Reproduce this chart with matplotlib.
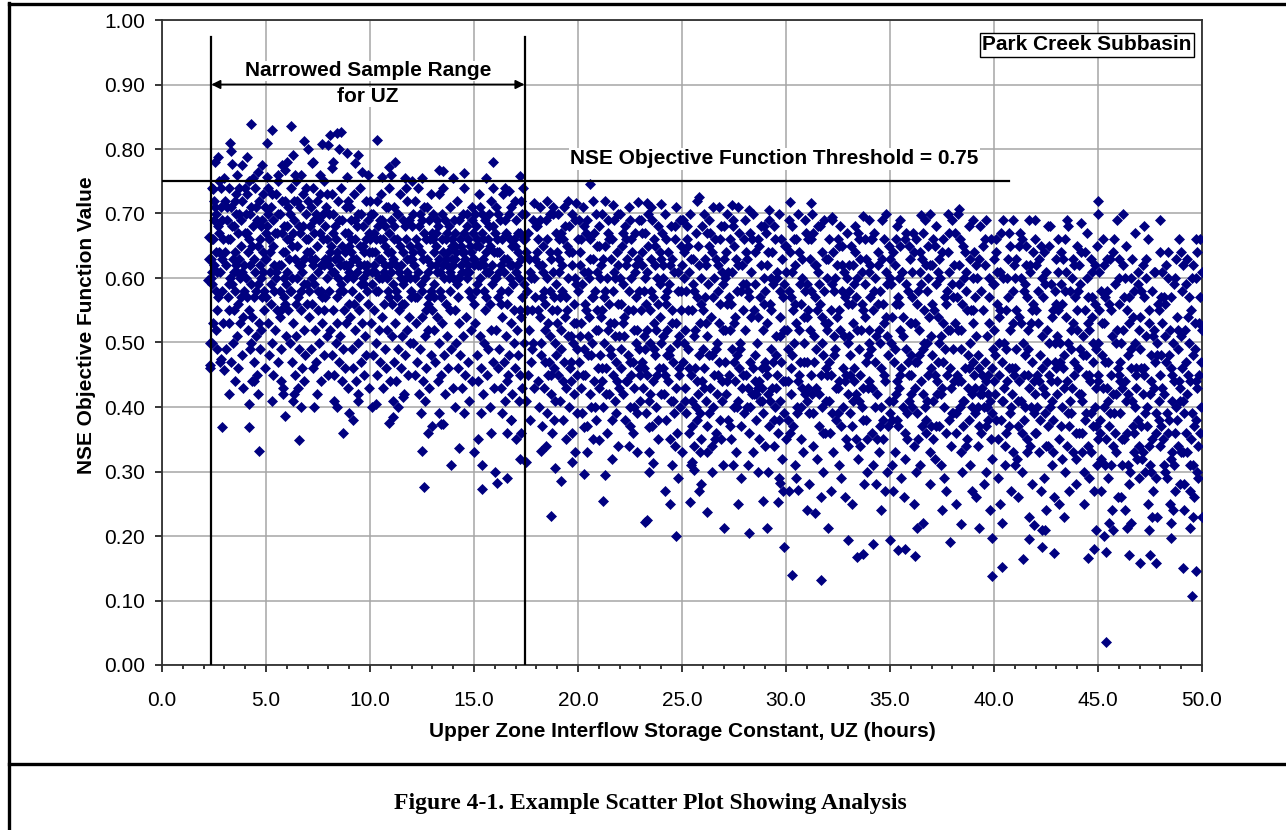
import matplotlib
matplotlib.use("Agg")
import matplotlib.pyplot as plt
from matplotlib.lines import Line2D
from matplotlib.ticker import MultipleLocator, FormatStrFormatter

plt.rcParams['font.family'] = ['Liberation Sans', 'DejaVu Sans']

# ---- data (UZ hours, NSE value) ----

# narrowed range, points above the 0.75 threshold
zone_a_high = [(2.44,.738),(2.7,.787),(3.25,.81),(3.34,.797),(3.35,.776),(3.6,.76),(3.86,.775),(4.1,.788),(4.3,.839),(4.36,.755),
    (4.8,.775),(5.07,.81),(5.06,.757),(5.3,.83),(5.56,.76),(5.75,.775),(6.0,.78),(6.2,.836),(6.4,.76),(6.7,.76),(6.85,.812),(7.0,.80),
    (7.2,.778),(7.25,.78),(7.6,.76),(7.7,.808),(7.96,.806),(8.1,.822),(8.2,.78),(8.17,.77),(8.4,.825),(8.6,.827),(8.9,.794),(8.9,.757),
    (9.26,.778),(9.4,.79),(9.9,.76),(10.35,.814),(10.6,.757),(10.9,.772),(11.2,.78),(11.66,.755),(12.5,.755),(13.3,.767),(13.5,.766),
    (14.5,.763),(15.6,.755),(15.9,.78),(16.7,.735),(17.2,.758),(12.0,.75),(14.0,.755),(11.0,.76),(9.6,.765),(8.5,.80),(6.3,.79),
    (5.9,.768),(4.6,.765),(3.0,.755)]

# narrowed range, sparse low points
zone_a_low = [(2.24,.63),(2.19,.597),(2.28,.664),(2.38,.61),(2.33,.50),(2.33,.465),(2.86,.474),(2.96,.457),(2.9,.369),(4.19,.369),
    (4.64,.332),(6.6,.349),(8.7,.36),(5.9,.386),(12.5,.332),(12.6,.276),(13.9,.31),(4.2,.405),(6.7,.40),(9.0,.39),(9.2,.38),(10.9,.375),
    (11.1,.385),(10.3,.405),(11.1,.41),(12.8,.36),(13.4,.373),(13.0,.37),(13.3,.39),(9.4,.42),(6.3,.41),(11.6,.415),(15.4,.273),
    (16.1,.282),(16.6,.29),(15.4,.31),(16.0,.30),(17.2,.32),(14.3,.336),(15.0,.33),(15.8,.36),(16.6,.36),(15.2,.35),(13.5,.373),
    (3.2,.42),(4.4,.44),(5.8,.42),(7.3,.40),(8.4,.40),(10.1,.40),(14.1,.40),(14.5,.39),(16.8,.38),(17.0,.35)]

# narrowed range, dense body
zone_a_core = [
    (2.35,.60),(2.4,.59),(2.36,.63),(2.42,.74),(2.38,.50),(2.33,.46),(2.45,.66),(2.5,.72),(2.55,.71),(2.6,.70),(2.7,.68),(2.75,.67),
    (2.4,.66),(2.5,.62),(2.6,.58),(2.65,.55),(2.8,.61),(2.9,.63),(2.55,.78),(2.85,.74),(2.9,.69),(2.7,.57),(2.95,.53),(2.8,.47),
    (2.45,.53),(2.6,.64),(2.75,.75),(2.9,.58),(2.65,.49),
    (3.05,.72),(3.12,.69),(3.2,.74),(3.28,.66),(3.33,.71),(3.41,.63),(3.47,.68),(3.55,.73),(3.62,.61),(3.7,.70),(3.78,.65),(3.85,.72),
    (3.93,.58),(3.08,.62),(3.15,.57),(3.24,.53),(3.36,.59),(3.44,.55),(3.52,.64),(3.6,.51),(3.67,.56),(3.75,.60),(3.83,.48),(3.9,.54),
    (3.97,.67),(3.1,.49),(3.3,.47),(3.5,.44),(3.65,.46),(3.88,.43),(3.18,.66),(3.58,.70),(3.72,.74),(3.45,.61),(3.95,.62),(3.22,.59),(3.8,.57),
    (4.03,.70),(4.1,.73),(4.18,.66),(4.25,.62),(4.3,.71),(4.38,.68),(4.46,.74),(4.52,.58),(4.6,.65),(4.67,.72),(4.75,.60),(4.82,.69),
    (4.9,.55),(4.97,.63),(4.07,.57),(4.14,.52),(4.22,.49),(4.34,.54),(4.42,.47),(4.5,.51),(4.57,.45),(4.64,.53),(4.72,.49),(4.8,.57),
    (4.87,.61),(4.94,.46),(4.12,.64),(4.28,.59),(4.44,.63),(4.55,.69),(4.7,.66),(4.85,.73),(4.33,.44),(4.62,.42),(4.95,.71),(4.2,.75),(4.78,.52),
    (5.04,.68),(5.11,.74),(5.17,.61),(5.25,.71),(5.32,.65),(5.4,.58),(5.46,.73),(5.53,.67),(5.61,.62),(5.68,.70),(5.74,.55),(5.82,.64),
    (5.9,.72),(5.96,.59),(5.08,.53),(5.15,.48),(5.22,.56),(5.29,.50),(5.36,.45),(5.44,.52),(5.5,.60),(5.57,.47),(5.65,.54),(5.72,.49),
    (5.8,.43),(5.87,.57),(5.94,.51),(5.02,.63),(5.13,.66),(5.35,.69),(5.59,.75),(5.77,.67),(5.92,.64),(5.27,.41),(5.48,.61),(5.7,.44),(5.85,.60),
    (6.05,.71),(6.12,.66),(6.19,.74),(6.27,.60),(6.33,.69),(6.41,.63),(6.48,.72),(6.55,.57),(6.63,.67),(6.7,.62),(6.78,.73),(6.85,.59),
    (6.92,.70),(6.98,.64),(6.08,.55),(6.16,.50),(6.23,.47),(6.3,.53),(6.38,.45),(6.45,.51),(6.52,.43),(6.6,.49),(6.67,.55),(6.74,.46),
    (6.81,.52),(6.89,.48),(6.95,.56),(6.02,.61),(6.25,.65),(6.44,.75),(6.58,.68),(6.72,.61),(6.9,.66),(6.14,.58),(6.36,.42),(6.83,.44),(6.5,.60),
    (7.03,.72),(7.1,.68),(7.17,.63),(7.24,.74),(7.31,.59),(7.38,.70),(7.45,.65),(7.52,.61),(7.6,.73),(7.67,.57),(7.74,.66),(7.81,.62),
    (7.88,.71),(7.95,.60),(7.07,.54),(7.14,.49),(7.21,.56),(7.28,.46),(7.35,.52),(7.42,.47),(7.49,.55),(7.56,.50),(7.63,.44),(7.7,.53),
    (7.77,.48),(7.84,.57),(7.91,.51),(7.98,.45),(7.12,.64),(7.33,.67),(7.55,.69),(7.78,.75),(7.93,.66),(7.26,.62),(7.47,.42),(7.65,.58),(7.86,.63),
    (8.04,.70),(8.11,.65),(8.18,.73),(8.25,.61),(8.32,.68),(8.39,.57),(8.46,.72),(8.53,.63),(8.6,.59),(8.67,.69),(8.74,.55),(8.81,.64),
    (8.88,.60),(8.95,.67),(8.08,.52),(8.15,.48),(8.22,.55),(8.29,.45),(8.36,.50),(8.43,.53),(8.5,.47),(8.57,.51),(8.64,.44),(8.71,.49),
    (8.78,.46),(8.85,.53),(8.92,.43),(8.99,.56),(8.02,.62),(8.2,.67),(8.41,.64),(8.62,.74),(8.83,.71),(8.97,.61),(8.27,.41),(8.55,.58),(8.76,.62),
    (9.03,.71),(9.1,.66),(9.17,.60),(9.24,.73),(9.31,.63),(9.38,.68),(9.45,.57),(9.52,.62),(9.59,.70),(9.66,.65),(9.73,.59),(9.8,.72),
    (9.87,.61),(9.94,.67),(9.06,.54),(9.13,.49),(9.2,.46),(9.27,.52),(9.34,.44),(9.41,.50),(9.48,.55),(9.55,.47),(9.62,.53),(9.69,.45),
    (9.76,.51),(9.83,.48),(9.9,.56),(9.97,.43),(9.08,.64),(9.29,.69),(9.5,.74),(9.71,.64),(9.92,.69),(9.15,.58),(9.43,.41),(9.64,.60),(9.85,.62),
    (10.04,.70),(10.11,.64),(10.18,.67),(10.25,.61),(10.32,.72),(10.39,.58),(10.46,.66),(10.53,.63),(10.6,.69),(10.67,.56),(10.74,.65),
    (10.81,.60),(10.88,.71),(10.95,.62),(10.07,.53),(10.14,.48),(10.21,.55),(10.28,.50),(10.35,.45),(10.42,.52),(10.49,.47),(10.56,.54),
    (10.63,.43),(10.7,.49),(10.77,.46),(10.84,.52),(10.91,.57),(10.98,.44),(10.09,.59),(10.3,.66),(10.51,.73),(10.72,.68),(10.93,.74),
    (10.2,.62),(10.44,.60),(10.65,.61),(10.86,.64),
    (11.03,.69),(11.1,.63),(11.17,.71),(11.24,.58),(11.31,.66),(11.38,.61),(11.45,.73),(11.52,.56),(11.59,.64),(11.66,.68),(11.73,.60),
    (11.8,.72),(11.87,.54),(11.94,.65),(11.06,.51),(11.13,.47),(11.2,.53),(11.27,.44),(11.34,.49),(11.41,.55),(11.48,.46),(11.55,.51),
    (11.62,.42),(11.69,.48),(11.76,.52),(11.83,.45),(11.9,.50),(11.97,.57),(11.08,.56),(11.29,.70),(11.5,.62),(11.71,.74),(11.92,.60),
    (11.15,.66),(11.36,.40),(11.57,.59),(11.78,.63),
    (12.04,.68),(12.11,.62),(12.18,.72),(12.25,.57),(12.32,.65),(12.39,.70),(12.46,.59),(12.53,.63),(12.6,.67),(12.67,.55),(12.74,.71),
    (12.81,.61),(12.88,.66),(12.95,.58),(12.07,.50),(12.14,.45),(12.21,.53),(12.28,.47),(12.35,.42),(12.42,.49),(12.49,.54),(12.56,.44),
    (12.63,.51),(12.7,.46),(12.77,.52),(12.84,.43),(12.91,.48),(12.98,.55),(12.09,.64),(12.3,.74),(12.51,.69),(12.72,.63),(12.93,.73),
    (12.16,.60),(12.44,.39),(12.65,.41),(12.86,.57),
    (13.03,.70),(13.1,.64),(13.17,.67),(13.24,.61),(13.31,.73),(13.38,.58),(13.45,.66),(13.52,.62),(13.59,.69),(13.66,.56),(13.73,.64),
    (13.8,.60),(13.87,.71),(13.94,.63),(13.06,.52),(13.13,.47),(13.2,.54),(13.27,.44),(13.34,.50),(13.41,.45),(13.48,.53),(13.55,.48),
    (13.62,.42),(13.69,.51),(13.76,.46),(13.83,.55),(13.9,.49),(13.97,.43),(13.08,.59),(13.29,.68),(13.5,.74),(13.71,.67),(13.92,.65),
    (13.15,.62),(13.43,.57),(13.64,.63),(13.85,.61),
    (14.04,.69),(14.11,.63),(14.18,.72),(14.25,.60),(14.32,.66),(14.39,.62),(14.46,.70),(14.53,.64),(14.6,.61),(14.67,.68),(14.74,.58),
    (14.81,.65),(14.88,.71),(14.95,.63),(14.07,.55),(14.14,.50),(14.21,.46),(14.28,.53),(14.35,.48),(14.42,.43),(14.49,.51),(14.56,.45),
    (14.63,.54),(14.7,.47),(14.77,.41),(14.84,.52),(14.91,.44),(14.98,.56),(14.09,.65),(14.3,.60),(14.51,.74),(14.72,.62),(14.93,.67),
    (14.16,.59),(14.44,.64),(14.65,.60),(14.86,.57),
    (15.03,.70),(15.1,.65),(15.17,.62),(15.24,.73),(15.31,.60),(15.38,.67),(15.45,.63),(15.52,.69),(15.59,.57),(15.66,.66),(15.73,.61),
    (15.8,.72),(15.87,.59),(15.94,.64),(15.06,.53),(15.13,.48),(15.2,.44),(15.27,.51),(15.34,.46),(15.41,.42),(15.48,.50),(15.55,.55),
    (15.62,.45),(15.69,.49),(15.76,.40),(15.83,.52),(15.9,.47),(15.97,.43),(15.08,.58),(15.29,.71),(15.5,.62),(15.71,.68),(15.92,.74),
    (15.15,.66),(15.36,.39),(15.57,.61),(15.78,.56),
    (16.04,.71),(16.11,.66),(16.18,.61),(16.25,.69),(16.32,.58),(16.39,.73),(16.46,.63),(16.53,.67),(16.6,.56),(16.67,.70),(16.74,.62),
    (16.81,.65),(16.88,.59),(16.95,.72),(16.07,.52),(16.14,.46),(16.21,.49),(16.28,.43),(16.35,.54),(16.42,.47),(16.49,.41),(16.56,.51),
    (16.63,.45),(16.7,.48),(16.77,.53),(16.84,.42),(16.91,.50),(16.98,.46),(16.09,.64),(16.3,.62),(16.51,.74),(16.72,.60),(16.93,.66),
    (16.16,.57),(16.37,.39),(16.58,.44),(16.79,.38),
    (17.03,.69),(17.1,.64),(17.17,.60),(17.24,.72),(17.3,.57),(17.36,.66),(17.06,.52),(17.13,.48),(17.2,.45),(17.27,.54),(17.33,.43),
    (17.38,.50),(17.08,.62),(17.22,.67),(17.34,.74),(17.15,.41),(17.28,.36)]

# narrowed range, second pass over the densest band
zone_a_fill = [
    (2.52,.69),(2.63,.61),(2.72,.64),(2.82,.71),(2.92,.66),(2.58,.52),
    (3.01,.64),(3.14,.71),(3.21,.55),(3.35,.68),(3.4,.50),(3.49,.72),(3.57,.62),(3.63,.67),(3.74,.53),(3.81,.69),(3.87,.61),(3.98,.74),
    (3.27,.60),(3.53,.58),(3.69,.63),
    (4.02,.60),(4.09,.67),(4.16,.55),(4.24,.70),(4.31,.65),(4.4,.57),(4.48,.61),(4.54,.71),(4.63,.59),(4.69,.62),(4.77,.68),(4.84,.64),
    (4.91,.58),(4.99,.67),(4.26,.50),
    (5.01,.57),(5.09,.70),(5.19,.64),(5.23,.59),(5.31,.73),(5.38,.62),(5.45,.67),(5.52,.55),(5.58,.70),(5.66,.58),(5.73,.62),(5.79,.72),
    (5.86,.68),(5.93,.56),(5.99,.66),
    (6.01,.68),(6.09,.63),(6.17,.70),(6.21,.58),(6.29,.67),(6.35,.72),(6.43,.56),(6.49,.65),(6.57,.62),(6.62,.71),(6.69,.58),(6.76,.68),
    (6.84,.63),(6.91,.74),(6.97,.59),
    (7.01,.66),(7.09,.58),(7.16,.71),(7.22,.60),(7.29,.69),(7.36,.63),(7.43,.72),(7.5,.58),(7.58,.67),(7.64,.62),(7.72,.70),(7.79,.55),
    (7.85,.68),(7.92,.73),(7.99,.63),
    (8.01,.58),(8.09,.64),(8.16,.61),(8.23,.70),(8.31,.63),(8.37,.66),(8.45,.60),(8.51,.69),(8.58,.62),(8.65,.65),(8.72,.58),(8.79,.67),
    (8.86,.62),(8.93,.72),(8.98,.65),
    (9.01,.62),(9.09,.69),(9.16,.63),(9.22,.56),(9.3,.66),(9.37,.61),(9.44,.70),(9.51,.65),(9.57,.59),(9.65,.68),(9.72,.62),(9.79,.66),
    (9.86,.58),(9.93,.64),(9.99,.72),
    (10.01,.66),(10.08,.61),(10.16,.70),(10.23,.64),(10.29,.58),(10.37,.68),(10.43,.63),(10.5,.69),(10.57,.60),(10.64,.66),(10.71,.62),
    (10.78,.71),(10.85,.58),(10.92,.67),(10.99,.61),
    (11.01,.64),(11.09,.59),(11.16,.68),(11.23,.62),(11.3,.57),(11.37,.70),(11.44,.65),(11.51,.60),(11.58,.69),(11.64,.56),(11.72,.66),
    (11.79,.61),(11.86,.69),(11.93,.63),(11.99,.58),
    (12.01,.63),(12.08,.70),(12.15,.57),(12.22,.66),(12.29,.61),(12.36,.68),(12.43,.64),(12.5,.58),(12.58,.71),(12.64,.60),(12.71,.66),
    (12.78,.56),(12.85,.69),(12.92,.62),(12.99,.67),
    (13.01,.66),(13.09,.57),(13.16,.65),(13.22,.69),(13.3,.63),(13.36,.61),(13.44,.70),(13.51,.64),(13.57,.60),(13.65,.66),(13.72,.62),
    (13.78,.68),(13.86,.58),(13.93,.66),(13.99,.60),
    (14.01,.62),(14.08,.67),(14.15,.64),(14.23,.57),(14.29,.69),(14.37,.65),(14.43,.61),(14.5,.67),(14.57,.63),(14.64,.70),(14.71,.66),
    (14.78,.61),(14.85,.64),(14.92,.69),(14.99,.62),
    (15.01,.63),(15.09,.68),(15.16,.59),(15.22,.65),(15.3,.62),(15.37,.70),(15.44,.66),(15.5,.58),(15.58,.64),(15.65,.61),(15.72,.70),
    (15.79,.65),(15.86,.62),(15.93,.68),(15.99,.60),
    (16.01,.67),(16.08,.60),(16.15,.70),(16.22,.64),(16.29,.56),(16.36,.66),(16.43,.61),(16.5,.69),(16.57,.63),(16.64,.58),(16.71,.66),
    (16.78,.71),(16.85,.62),(16.92,.55),(16.99,.65),
    (17.02,.61),(17.11,.67),(17.19,.55),(17.26,.63),(17.32,.70),(17.39,.59)]

# 17.4 - 25 hours
zone_b_core = [
    (17.45,.70),(17.5,.64),(17.55,.58),(17.6,.67),(17.65,.52),(17.7,.61),(17.75,.47),(17.8,.55),(17.85,.69),(17.9,.43),(17.95,.63),
    (17.52,.41),(17.68,.38),(17.82,.50),(17.93,.57),(17.58,.45),(17.72,.60),
    (18.04,.68),(18.11,.62),(18.18,.71),(18.25,.57),(18.32,.65),(18.39,.52),(18.46,.69),(18.53,.60),(18.6,.47),(18.67,.64),(18.74,.55),
    (18.81,.70),(18.88,.50),(18.95,.59),(18.07,.44),(18.14,.40),(18.21,.48),(18.28,.37),(18.35,.43),(18.42,.56),(18.49,.39),(18.56,.45),
    (18.63,.51),(18.7,.42),(18.77,.36),(18.84,.46),(18.91,.41),(18.98,.53),(18.09,.66),(18.3,.61),(18.51,.72),(18.72,.63),(18.93,.67),
    (18.16,.54),(18.44,.34),(18.65,.58),(18.86,.38),
    (19.03,.70),(19.1,.63),(19.17,.67),(19.24,.58),(19.31,.71),(19.38,.54),(19.45,.65),(19.52,.60),(19.59,.68),(19.66,.51),(19.73,.62),
    (19.8,.56),(19.87,.69),(19.94,.49),(19.06,.45),(19.13,.41),(19.2,.52),(19.27,.38),(19.34,.47),(19.41,.43),(19.48,.55),(19.55,.40),
    (19.62,.46),(19.69,.36),(19.76,.50),(19.83,.42),(19.9,.53),(19.97,.39),(19.08,.61),(19.29,.66),(19.5,.72),(19.71,.64),(19.92,.59),
    (19.15,.57),(19.43,.35),(19.64,.44),(19.85,.33),
    (20.04,.69),(20.11,.64),(20.18,.59),(20.25,.71),(20.32,.56),(20.39,.67),(20.46,.61),(20.53,.54),(20.6,.66),(20.67,.50),(20.74,.63),
    (20.81,.58),(20.88,.70),(20.95,.52),(20.07,.47),(20.14,.43),(20.21,.39),(20.28,.49),(20.35,.45),(20.42,.37),(20.49,.51),(20.56,.42),
    (20.63,.48),(20.7,.35),(20.77,.44),(20.84,.40),(20.91,.55),(20.98,.46),(20.09,.62),(20.3,.68),(20.51,.60),(20.72,.72),(20.93,.65),
    (20.16,.53),(20.44,.33),(20.65,.57),(20.86,.38),
    (21.03,.68),(21.1,.62),(21.17,.70),(21.24,.57),(21.31,.65),(21.38,.60),(21.45,.67),(21.52,.53),(21.59,.63),(21.66,.58),(21.73,.69),
    (21.8,.51),(21.87,.64),(21.94,.56),(21.06,.48),(21.13,.44),(21.2,.40),(21.27,.50),(21.34,.46),(21.41,.36),(21.48,.42),(21.55,.49),
    (21.62,.38),(21.69,.45),(21.76,.41),(21.83,.47),(21.9,.34),(21.97,.43),(21.08,.60),(21.29,.72),(21.5,.66),(21.71,.61),(21.92,.70),
    (21.15,.55),(21.43,.52),(21.64,.32),(21.85,.39),
    (22.04,.70),(22.11,.65),(22.18,.59),(22.25,.68),(22.32,.62),(22.39,.55),(22.46,.71),(22.53,.60),(22.6,.64),(22.67,.52),(22.74,.67),
    (22.81,.57),(22.88,.63),(22.95,.49),(22.07,.46),(22.14,.42),(22.21,.51),(22.28,.38),(22.35,.44),(22.42,.48),(22.49,.40),(22.56,.45),
    (22.63,.36),(22.7,.43),(22.77,.50),(22.84,.39),(22.91,.46),(22.98,.41),(22.09,.56),(22.3,.66),(22.51,.69),(22.72,.61),(22.93,.58),
    (22.16,.53),(22.44,.34),(22.65,.47),(22.86,.33),
    (23.03,.69),(23.1,.64),(23.17,.58),(23.24,.67),(23.31,.61),(23.38,.70),(23.45,.55),(23.52,.63),(23.59,.57),(23.66,.66),(23.73,.52),
    (23.8,.60),(23.87,.68),(23.94,.54),(23.06,.47),(23.13,.43),(23.2,.49),(23.27,.39),(23.34,.45),(23.41,.41),(23.48,.50),(23.55,.37),
    (23.62,.44),(23.69,.48),(23.76,.40),(23.83,.35),(23.9,.46),(23.97,.42),(23.08,.62),(23.29,.56),(23.5,.71),(23.71,.65),(23.92,.59),
    (23.15,.51),(23.43,.33),(23.64,.53),(23.85,.38),
    (24.04,.67),(24.11,.62),(24.18,.70),(24.25,.56),(24.32,.64),(24.39,.59),(24.46,.68),(24.53,.53),(24.6,.61),(24.67,.66),(24.74,.50),
    (24.81,.58),(24.88,.69),(24.95,.55),(24.07,.46),(24.14,.42),(24.21,.38),(24.28,.48),(24.35,.44),(24.42,.35),(24.49,.41),(24.56,.47),
    (24.63,.39),(24.7,.43),(24.77,.36),(24.84,.45),(24.91,.40),(24.98,.33),(24.09,.60),(24.3,.52),(24.51,.63),(24.72,.71),(24.93,.65),
    (24.16,.57),(24.44,.49),(24.65,.34),(24.86,.51)]

zone_b_fill = [
    (17.47,.66),(17.57,.55),(17.66,.63),(17.77,.49),(17.88,.60),(17.97,.68),
    (18.01,.64),(18.08,.55),(18.15,.69),(18.22,.50),(18.29,.62),(18.36,.58),(18.43,.47),(18.5,.66),(18.57,.53),(18.64,.70),(18.71,.45),
    (18.78,.61),(18.85,.57),(18.92,.48),(18.99,.64),
    (19.01,.55),(19.09,.66),(19.16,.49),(19.22,.62),(19.3,.44),(19.37,.68),(19.44,.57),(19.51,.51),(19.57,.64),(19.65,.47),(19.72,.70),
    (19.79,.53),(19.86,.60),(19.93,.45),(19.99,.66),
    (20.01,.58),(20.08,.51),(20.16,.66),(20.23,.45),(20.29,.61),(20.37,.55),(20.43,.69),(20.5,.48),(20.57,.63),(20.64,.40),(20.71,.57),
    (20.78,.67),(20.85,.52),(20.92,.61),(20.99,.43),
    (21.01,.65),(21.09,.54),(21.16,.46),(21.22,.63),(21.3,.58),(21.37,.42),(21.44,.69),(21.51,.56),(21.57,.48),(21.65,.66),(21.72,.53),
    (21.79,.60),(21.86,.44),(21.93,.62),(21.99,.51),
    (22.01,.60),(22.08,.49),(22.16,.67),(22.23,.54),(22.29,.44),(22.37,.63),(22.43,.58),(22.5,.47),(22.57,.66),(22.64,.55),(22.71,.40),
    (22.78,.62),(22.85,.52),(22.92,.69),(22.99,.45),
    (23.01,.55),(23.09,.67),(23.16,.46),(23.22,.60),(23.3,.52),(23.37,.65),(23.44,.42),(23.51,.58),(23.57,.69),(23.65,.49),(23.72,.62),
    (23.79,.45),(23.86,.56),(23.93,.64),(23.99,.50),
    (24.01,.63),(24.08,.51),(24.16,.45),(24.22,.66),(24.3,.58),(24.37,.48),(24.44,.62),(24.51,.55),(24.57,.41),(24.65,.68),(24.72,.53),
    (24.79,.61),(24.86,.46),(24.93,.58),(24.99,.69)]

# 25 - 30 hours
zone_c_core = [
    (25.04,.69),(25.11,.64),(25.18,.58),(25.25,.66),(25.32,.61),(25.39,.70),(25.46,.55),(25.53,.63),(25.6,.51),(25.67,.67),(25.74,.57),
    (25.81,.62),(25.88,.53),(25.95,.68),(25.07,.47),(25.14,.43),(25.21,.39),(25.28,.49),(25.35,.36),(25.42,.45),(25.49,.41),(25.56,.34),
    (25.63,.46),(25.7,.38),(25.77,.42),(25.84,.48),(25.91,.35),(25.98,.44),(25.09,.60),(25.3,.65),(25.51,.59),(25.72,.72),(25.93,.56),
    (25.16,.52),(25.44,.31),(25.65,.40),(25.86,.33),
    (26.04,.70),(26.11,.63),(26.18,.67),(26.25,.59),(26.32,.69),(26.39,.54),(26.46,.64),(26.53,.60),(26.6,.66),(26.67,.50),(26.74,.62),
    (26.81,.56),(26.88,.68),(26.95,.52),(26.07,.46),(26.14,.41),(26.21,.37),(26.28,.48),(26.35,.43),(26.42,.34),(26.49,.40),(26.56,.45),
    (26.63,.36),(26.7,.42),(26.77,.47),(26.84,.38),(26.91,.44),(26.98,.31),(26.09,.57),(26.3,.65),(26.51,.71),(26.72,.58),(26.93,.61),
    (26.16,.53),(26.44,.30),(26.65,.49),(26.86,.35),
    (27.03,.68),(27.1,.64),(27.17,.70),(27.24,.57),(27.31,.66),(27.38,.61),(27.45,.69),(27.52,.53),(27.59,.63),(27.66,.58),(27.73,.67),
    (27.8,.50),(27.87,.62),(27.94,.55),(27.06,.47),(27.13,.42),(27.2,.38),(27.27,.45),(27.34,.35),(27.41,.49),(27.48,.40),(27.55,.44),
    (27.62,.33),(27.69,.41),(27.76,.46),(27.83,.37),(27.9,.43),(27.97,.39),(27.08,.60),(27.29,.52),(27.5,.65),(27.71,.71),(27.92,.59),
    (27.15,.56),(27.43,.31),(27.64,.48),(27.85,.29),
    (28.04,.69),(28.11,.63),(28.18,.58),(28.25,.67),(28.32,.61),(28.39,.70),(28.46,.55),(28.53,.64),(28.6,.50),(28.67,.66),(28.74,.57),
    (28.81,.62),(28.88,.52),(28.95,.68),(28.07,.45),(28.14,.40),(28.21,.36),(28.28,.47),(28.35,.42),(28.42,.33),(28.49,.44),(28.56,.38),
    (28.63,.43),(28.7,.35),(28.77,.41),(28.84,.46),(28.91,.39),(28.98,.34),(28.09,.59),(28.3,.54),(28.51,.48),(28.72,.65),(28.93,.60),
    (28.16,.31),(28.44,.42),(28.65,.30),(28.86,.43),
    (29.03,.67),(29.1,.62),(29.17,.69),(29.24,.56),(29.31,.64),(29.38,.59),(29.45,.66),(29.52,.51),(29.59,.61),(29.66,.70),(29.73,.54),
    (29.8,.63),(29.87,.57),(29.94,.65),(29.06,.46),(29.13,.42),(29.2,.37),(29.27,.49),(29.34,.43),(29.41,.34),(29.48,.40),(29.55,.45),
    (29.62,.36),(29.69,.41),(29.76,.47),(29.83,.32),(29.9,.39),(29.97,.44),(29.08,.53),(29.29,.60),(29.5,.48),(29.71,.58),(29.92,.52),
    (29.15,.30),(29.43,.38),(29.64,.29),(29.85,.27)]

# 30 - 50 hours
zone_d_core = [
    (30.02,.61),(30.09,.44),(30.13,.69),(30.2,.36),(30.26,.57),(30.3,.48),(30.37,.66),(30.41,.31),(30.47,.53),(30.52,.40),(30.58,.70),
    (30.63,.45),(30.69,.59),(30.74,.35),(30.79,.63),(30.85,.50),(30.9,.42),(30.96,.67),(30.05,.52),(30.11,.38),(30.17,.64),(30.23,.46),
    (30.34,.55),(30.44,.62),(30.55,.39),(30.66,.47),(30.72,.56),(30.82,.33),(30.93,.58),(30.99,.41),(30.28,.68),(30.5,.29),(30.61,.64),
    (30.77,.43),(30.88,.54),(30.15,.27),(30.39,.50),
    (31.01,.47),(31.07,.66),(31.12,.39),(31.18,.58),(31.24,.70),(31.29,.34),(31.35,.51),(31.4,.62),(31.46,.43),(31.53,.68),(31.57,.37),
    (31.64,.56),(31.68,.45),(31.75,.64),(31.8,.30),(31.86,.53),(31.92,.41),(31.97,.60),(31.04,.55),(31.15,.63),(31.21,.45),(31.32,.67),
    (31.43,.49),(31.49,.32),(31.6,.59),(31.71,.40),(31.78,.48),(31.83,.69),(31.89,.36),(31.95,.52),(31.1,.28),(31.27,.42),(31.38,.57),
    (31.55,.61),(31.66,.26),(31.73,.54),(31.9,.46),
    (32.03,.63),(32.08,.41),(32.14,.55),(32.19,.69),(32.25,.33),(32.31,.48),(32.36,.60),(32.42,.38),(32.48,.66),(32.54,.44),(32.59,.52),
    (32.65,.29),(32.7,.62),(32.76,.46),(32.82,.57),(32.87,.35),(32.93,.67),(32.98,.50),(32.05,.47),(32.11,.36),(32.22,.59),(32.28,.64),
    (32.39,.43),(32.45,.54),(32.56,.31),(32.62,.68),(32.73,.40),(32.79,.61),(32.9,.45),(32.96,.56),(32.17,.27),(32.33,.51),(32.5,.39),
    (32.67,.58),(32.84,.26),(32.99,.42),(32.57,.65),
    (33.02,.58),(33.07,.45),(33.13,.65),(33.18,.37),(33.24,.53),(33.3,.68),(33.35,.42),(33.41,.60),(33.47,.32),(33.52,.49),(33.58,.63),
    (33.63,.40),(33.69,.55),(33.75,.28),(33.8,.66),(33.86,.47),(33.91,.35),(33.97,.61),(33.04,.51),(33.1,.39),(33.21,.62),(33.27,.44),
    (33.38,.57),(33.44,.67),(33.55,.34),(33.61,.52),(33.72,.43),(33.78,.59),(33.89,.30),(33.95,.48),(33.16,.25),(33.33,.64),(33.49,.41),
    (33.66,.56),(33.83,.38),(33.99,.69),(33.25,.46),
    (34.01,.44),(34.06,.62),(34.12,.36),(34.17,.55),(34.23,.67),(34.29,.40),(34.34,.51),(34.4,.64),(34.45,.33),(34.51,.58),(34.57,.46),
    (34.62,.69),(34.68,.38),(34.73,.53),(34.79,.61),(34.84,.30),(34.9,.48),(34.96,.65),(34.04,.57),(34.09,.49),(34.2,.31),(34.26,.60),
    (34.37,.42),(34.43,.56),(34.54,.37),(34.6,.63),(34.71,.45),(34.76,.27),(34.87,.59),(34.93,.41),(34.15,.66),(34.32,.28),(34.48,.52),
    (34.65,.35),(34.82,.54),(34.98,.39),(34.58,.24),
    (35.03,.59),(35.08,.38),(35.14,.64),(35.19,.47),(35.25,.33),(35.31,.56),(35.36,.68),(35.42,.43),(35.47,.52),(35.53,.29),(35.59,.61),
    (35.64,.40),(35.7,.66),(35.75,.49),(35.81,.35),(35.86,.58),(35.92,.45),(35.97,.63),(35.05,.50),(35.11,.31),(35.22,.62),(35.27,.42),
    (35.38,.37),(35.44,.60),(35.55,.46),(35.61,.54),(35.72,.32),(35.78,.67),(35.89,.41),(35.95,.53),(35.16,.27),(35.33,.44),(35.5,.65),
    (35.67,.26),(35.84,.39),(35.99,.48),(35.4,.57),
    (36.02,.45),(36.07,.61),(36.13,.34),(36.18,.53),(36.24,.66),(36.3,.39),(36.35,.58),(36.41,.48),(36.46,.31),(36.52,.63),(36.58,.42),
    (36.63,.55),(36.69,.69),(36.74,.36),(36.8,.50),(36.85,.60),(36.91,.28),(36.97,.46),(36.04,.57),(36.1,.67),(36.21,.43),(36.27,.30),
    (36.38,.52),(36.44,.64),(36.55,.37),(36.61,.49),(36.72,.62),(36.77,.41),(36.88,.54),(36.94,.33),(36.15,.25),(36.32,.47),(36.49,.59),
    (36.66,.40),(36.83,.65),(36.99,.51),(36.57,.22),
    (37.01,.62),(37.06,.41),(37.12,.55),(37.17,.32),(37.23,.68),(37.29,.47),(37.34,.37),(37.4,.60),(37.45,.51),(37.51,.43),(37.57,.66),
    (37.62,.29),(37.68,.56),(37.73,.45),(37.79,.64),(37.84,.38),(37.9,.52),(37.96,.69),(37.04,.48),(37.09,.35),(37.2,.59),(37.26,.42),
    (37.37,.63),(37.43,.31),(37.54,.53),(37.6,.40),(37.71,.27),(37.76,.58),(37.87,.46),(37.93,.34),(37.14,.65),(37.31,.54),(37.48,.24),
    (37.65,.49),(37.82,.61),(37.98,.39),(37.25,.44),
    (38.03,.57),(38.08,.44),(38.14,.67),(38.19,.36),(38.25,.52),(38.31,.62),(38.36,.40),(38.42,.49),(38.47,.30),(38.53,.65),(38.59,.46),
    (38.64,.58),(38.7,.35),(38.75,.43),(38.81,.68),(38.86,.50),(38.92,.27),(38.97,.60),(38.05,.39),(38.11,.53),(38.22,.45),(38.28,.70),
    (38.39,.33),(38.45,.56),(38.56,.41),(38.62,.64),(38.73,.48),(38.78,.38),(38.89,.55),(38.95,.42),(38.16,.25),(38.33,.59),(38.5,.37),
    (38.67,.61),(38.84,.31),(38.99,.47),(38.4,.44),
    (39.02,.64),(39.07,.39),(39.13,.51),(39.18,.60),(39.24,.34),(39.3,.46),(39.35,.68),(39.41,.42),(39.46,.55),(39.52,.28),(39.58,.62),
    (39.63,.44),(39.69,.38),(39.74,.57),(39.8,.41),(39.85,.66),(39.91,.32),(39.96,.49),(39.04,.45),(39.1,.57),(39.21,.40),(39.27,.63),
    (39.38,.36),(39.44,.43),(39.55,.47),(39.61,.30),(39.72,.45),(39.77,.53),(39.88,.39),(39.94,.59),(39.15,.26),(39.32,.42),(39.49,.65),
    (39.66,.40),(39.83,.24),(39.99,.44),(39.6,.37),
    (40.01,.59),(40.06,.42),(40.12,.66),(40.17,.35),(40.23,.50),(40.29,.61),(40.34,.38),(40.4,.47),(40.45,.69),(40.51,.31),(40.57,.55),
    (40.62,.44),(40.68,.63),(40.73,.37),(40.79,.52),(40.84,.27),(40.9,.58),(40.96,.45),(40.04,.48),(40.09,.64),(40.2,.29),(40.26,.54),
    (40.37,.41),(40.43,.60),(40.54,.34),(40.6,.49),(40.71,.67),(40.76,.39),(40.87,.46),(40.93,.33),(40.14,.56),(40.31,.25),(40.48,.43),
    (40.65,.57),(40.82,.40),(40.98,.62),(40.39,.22),
    (41.03,.46),(41.08,.63),(41.14,.37),(41.19,.54),(41.25,.67),(41.31,.41),(41.36,.30),(41.42,.58),(41.47,.48),(41.53,.65),(41.59,.35),
    (41.64,.52),(41.7,.43),(41.75,.61),(41.81,.28),(41.86,.56),(41.92,.39),(41.97,.69),(41.05,.55),(41.11,.32),(41.22,.44),(41.28,.60),
    (41.39,.50),(41.45,.38),(41.56,.62),(41.62,.45),(41.73,.34),(41.78,.53),(41.89,.64),(41.95,.42),(41.16,.26),(41.33,.66),(41.5,.40),
    (41.67,.23),(41.84,.47),(41.99,.36),(41.6,.57),
    (42.02,.62),(42.07,.40),(42.13,.53),(42.18,.33),(42.24,.65),(42.3,.46),(42.35,.57),(42.41,.29),(42.46,.42),(42.52,.61),(42.58,.37),
    (42.63,.50),(42.69,.68),(42.74,.44),(42.8,.31),(42.85,.55),(42.91,.47),(42.96,.63),(42.04,.36),(42.1,.58),(42.21,.48),(42.27,.27),
    (42.38,.64),(42.44,.39),(42.55,.52),(42.61,.34),(42.72,.59),(42.77,.41),(42.88,.26),(42.94,.50),(42.15,.44),(42.32,.60),(42.49,.24),
    (42.66,.45),(42.83,.38),(42.99,.56),(42.43,.21),
    (43.01,.51),(43.06,.66),(43.12,.35),(43.17,.47),(43.23,.59),(43.29,.40),(43.34,.63),(43.4,.30),(43.45,.54),(43.51,.44),(43.57,.68),
    (43.62,.37),(43.68,.49),(43.73,.60),(43.79,.33),(43.84,.45),(43.9,.57),(43.96,.28),(43.04,.42),(43.09,.55),(43.2,.64),(43.26,.32),
    (43.37,.48),(43.43,.58),(43.54,.39),(43.6,.27),(43.71,.52),(43.76,.43),(43.87,.62),(43.93,.36),(43.14,.25),(43.31,.46),(43.48,.61),
    (43.65,.41),(43.82,.53),(43.98,.65),(43.35,.23),
    (44.03,.58),(44.08,.36),(44.14,.49),(44.19,.64),(44.25,.41),(44.31,.30),(44.36,.55),(44.42,.45),(44.47,.67),(44.53,.34),(44.59,.52),
    (44.64,.39),(44.7,.61),(44.75,.47),(44.81,.27),(44.86,.56),(44.92,.43),(44.97,.65),(44.05,.46),(44.11,.62),(44.22,.33),(44.28,.51),
    (44.39,.38),(44.45,.60),(44.56,.29),(44.62,.44),(44.73,.54),(44.78,.37),(44.89,.49),(44.95,.31),(44.16,.42),(44.33,.25),(44.5,.57),
    (44.67,.63),(44.84,.40),(44.99,.35),(44.4,.48),
    (45.02,.44),(45.07,.61),(45.13,.32),(45.18,.53),(45.24,.66),(45.3,.40),(45.35,.47),(45.41,.58),(45.46,.29),(45.52,.37),(45.58,.63),
    (45.63,.45),(45.69,.51),(45.74,.34),(45.8,.59),(45.85,.42),(45.91,.69),(45.96,.26),(45.04,.55),(45.1,.38),(45.21,.48),(45.27,.62),
    (45.38,.35),(45.44,.43),(45.55,.56),(45.61,.31),(45.72,.64),(45.77,.39),(45.88,.50),(45.94,.46),(45.15,.27),(45.32,.57),(45.49,.41),
    (45.66,.24),(45.83,.36),(45.99,.60),(45.53,.22),
    (46.01,.63),(46.06,.39),(46.12,.50),(46.17,.31),(46.23,.57),(46.29,.44),(46.34,.65),(46.4,.36),(46.45,.48),(46.51,.28),(46.57,.60),
    (46.62,.41),(46.68,.54),(46.73,.33),(46.79,.67),(46.84,.45),(46.9,.38),(46.96,.52),(46.04,.47),(46.1,.26),(46.21,.62),(46.27,.35),
    (46.38,.55),(46.44,.42),(46.55,.30),(46.61,.49),(46.72,.58),(46.77,.40),(46.88,.32),(46.94,.61),(46.15,.43),(46.32,.24),(46.49,.53),
    (46.66,.37),(46.83,.46),(46.99,.29),(46.6,.22),
    (47.03,.54),(47.08,.37),(47.14,.62),(47.19,.45),(47.25,.30),(47.31,.51),(47.36,.40),(47.42,.66),(47.47,.34),(47.53,.48),(47.59,.58),
    (47.64,.27),(47.7,.43),(47.75,.61),(47.81,.36),(47.86,.50),(47.92,.41),(47.97,.64),(47.05,.46),(47.11,.32),(47.22,.57),(47.28,.39),
    (47.39,.25),(47.45,.53),(47.56,.44),(47.62,.35),(47.73,.47),(47.78,.29),(47.89,.56),(47.95,.38),(47.16,.42),(47.33,.60),(47.5,.31),
    (47.67,.52),(47.84,.23),(47.99,.45),(47.46,.21),
    (48.02,.48),(48.07,.61),(48.13,.35),(48.18,.42),(48.24,.56),(48.3,.29),(48.35,.64),(48.41,.38),(48.46,.52),(48.52,.32),(48.58,.45),
    (48.63,.59),(48.69,.27),(48.74,.40),(48.8,.54),(48.85,.34),(48.91,.66),(48.96,.43),(48.04,.37),(48.1,.53),(48.21,.30),(48.27,.47),
    (48.38,.60),(48.44,.25),(48.55,.41),(48.61,.50),(48.72,.36),(48.77,.63),(48.88,.44),(48.94,.28),(48.15,.57),(48.32,.39),(48.49,.46),
    (48.66,.31),(48.83,.49),(48.99,.33),(48.59,.24),
    (49.02,.58),(49.07,.41),(49.13,.28),(49.18,.52),(49.24,.36),(49.3,.63),(49.35,.45),(49.41,.31),(49.46,.55),(49.52,.39),(49.58,.48),
    (49.63,.26),(49.69,.60),(49.74,.43),(49.8,.34),(49.85,.53),(49.91,.66),(49.96,.47),(49.04,.46),(49.1,.33),(49.21,.59),(49.27,.42),
    (49.38,.50),(49.44,.27),(49.55,.62),(49.61,.37),(49.72,.44),(49.77,.30),(49.88,.57),(49.94,.40),(49.15,.24),(49.32,.54),(49.49,.35),
    (49.66,.49),(49.83,.29),(49.99,.61),(49.57,.23)]

# 25 - 50 hours, second pass over the dense band
zone_cd_fill = [
    (25.01,.62),(25.08,.50),(25.15,.41),(25.23,.68),(25.29,.55),(25.36,.46),(25.43,.63),(25.5,.37),(25.57,.58),(25.64,.52),(25.71,.44),
    (25.78,.65),(25.85,.39),(25.92,.60),(25.99,.49),
    (26.01,.55),(26.08,.43),(26.15,.62),(26.22,.51),(26.29,.39),(26.36,.67),(26.43,.48),(26.5,.57),(26.57,.35),(26.64,.63),(26.71,.45),
    (26.78,.53),(26.85,.66),(26.92,.41),(26.99,.59),
    (27.01,.63),(27.08,.52),(27.15,.44),(27.22,.61),(27.29,.37),(27.36,.56),(27.43,.68),(27.5,.47),(27.57,.54),(27.64,.40),(27.71,.62),
    (27.78,.49),(27.85,.58),(27.92,.45),(27.99,.66),
    (28.01,.52),(28.08,.64),(28.15,.43),(28.22,.57),(28.29,.40),(28.36,.66),(28.43,.46),(28.5,.59),(28.57,.42),(28.64,.54),(28.71,.44),
    (28.78,.68),(28.85,.41),(28.92,.56),(28.99,.47),
    (29.01,.58),(29.08,.45),(29.15,.64),(29.22,.41),(29.29,.55),(29.36,.47),(29.43,.68),(29.5,.43),(29.57,.60),(29.64,.38),(29.71,.51),
    (29.78,.66),(29.85,.44),(29.92,.59),(29.99,.35),
    (30.01,.65),(30.08,.49),(30.15,.58),(30.22,.42),(30.29,.61),(30.36,.37),(30.43,.56),(30.5,.66),(30.57,.44),(30.64,.52),(30.71,.40),
    (30.78,.60),(30.85,.47),(30.92,.69),(30.99,.54),
    (31.01,.59),(31.08,.43),(31.15,.52),(31.22,.66),(31.29,.39),(31.36,.47),(31.43,.62),(31.5,.55),(31.57,.42),(31.64,.68),(31.71,.50),
    (31.78,.36),(31.85,.58),(31.92,.63),(31.99,.45),
    (32.01,.53),(32.08,.66),(32.15,.45),(32.22,.39),(32.29,.58),(32.36,.49),(32.43,.62),(32.5,.43),(32.57,.55),(32.64,.37),(32.71,.65),
    (32.78,.51),(32.85,.44),(32.92,.60),(32.99,.34),
    (33.01,.62),(33.08,.48),(33.15,.56),(33.22,.41),(33.29,.59),(33.36,.35),(33.43,.52),(33.5,.66),(33.57,.45),(33.64,.61),(33.71,.38),
    (33.78,.54),(33.85,.63),(33.92,.43),(33.99,.50),
    (34.01,.52),(34.08,.66),(34.15,.43),(34.22,.58),(34.29,.47),(34.36,.35),(34.43,.62),(34.5,.50),(34.57,.40),(34.64,.56),(34.71,.66),
    (34.78,.44),(34.85,.51),(34.92,.37),(34.99,.60),
    (35.01,.63),(35.08,.54),(35.15,.41),(35.22,.49),(35.29,.66),(35.36,.38),(35.43,.56),(35.5,.45),(35.57,.61),(35.64,.51),(35.71,.36),
    (35.78,.59),(35.85,.47),(35.92,.65),(35.99,.42),
    (36.01,.53),(36.08,.40),(36.15,.64),(36.22,.47),(36.29,.56),(36.36,.35),(36.43,.61),(36.5,.44),(36.57,.67),(36.64,.50),(36.71,.38),
    (36.78,.58),(36.85,.45),(36.92,.62),(36.99,.37),
    (37.01,.56),(37.08,.66),(37.15,.45),(37.22,.37),(37.29,.61),(37.36,.50),(37.43,.42),(37.5,.64),(37.57,.47),(37.64,.57),(37.71,.36),
    (37.78,.52),(37.85,.67),(37.92,.43),(37.99,.59),
    (38.01,.49),(38.08,.62),(38.15,.39),(38.22,.57),(38.29,.44),(38.36,.66),(38.43,.52),(38.5,.41),(38.57,.60),(38.64,.34),(38.71,.55),
    (38.78,.46),(38.85,.63),(38.92,.40),(38.99,.53),
    (39.01,.55),(39.08,.43),(39.15,.62),(39.22,.48),(39.29,.37),(39.36,.58),(39.43,.45),(39.5,.40),(39.57,.66),(39.64,.51),(39.71,.42),
    (39.78,.60),(39.85,.35),(39.92,.46),(39.99,.63),
    (40.01,.52),(40.08,.38),(40.15,.61),(40.22,.45),(40.29,.55),(40.36,.67),(40.43,.41),(40.5,.50),(40.57,.36),(40.64,.60),(40.71,.46),
    (40.78,.65),(40.85,.42),(40.92,.53),(40.99,.31),
    (41.01,.60),(41.08,.49),(41.15,.41),(41.22,.65),(41.29,.53),(41.36,.36),(41.43,.45),(41.5,.59),(41.57,.33),(41.64,.49),(41.71,.62),
    (41.78,.40),(41.85,.55),(41.92,.44),(41.99,.66),
    (42.01,.55),(42.08,.45),(42.15,.63),(42.22,.38),(42.29,.51),(42.36,.43),(42.43,.59),(42.5,.34),(42.57,.47),(42.64,.65),(42.71,.40),
    (42.78,.54),(42.85,.33),(42.92,.58),(42.99,.46),
    (43.01,.44),(43.08,.61),(43.15,.50),(43.22,.37),(43.29,.56),(43.36,.43),(43.43,.66),(43.5,.34),(43.57,.50),(43.64,.58),(43.71,.39),
    (43.78,.63),(43.85,.47),(43.92,.32),(43.99,.55),
    (44.01,.52),(44.08,.42),(44.15,.59),(44.22,.36),(44.29,.48),(44.36,.64),(44.43,.39),(44.5,.53),(44.57,.45),(44.64,.33),(44.71,.57),
    (44.78,.50),(44.85,.62),(44.92,.37),(44.99,.45),
    (45.01,.50),(45.08,.36),(45.15,.58),(45.22,.43),(45.29,.53),(45.36,.31),(45.43,.63),(45.5,.47),(45.57,.39),(45.64,.55),(45.71,.42),
    (45.78,.66),(45.85,.33),(45.92,.52),(45.99,.45),
    (46.01,.56),(46.08,.44),(46.15,.35),(46.22,.52),(46.29,.60),(46.36,.41),(46.43,.31),(46.5,.57),(46.57,.46),(46.64,.63),(46.71,.36),
    (46.78,.50),(46.85,.43),(46.92,.59),(46.99,.34),
    (47.01,.49),(47.08,.58),(47.15,.33),(47.22,.46),(47.29,.63),(47.36,.37),(47.43,.55),(47.5,.42),(47.57,.30),(47.64,.51),(47.71,.61),
    (47.78,.39),(47.85,.48),(47.92,.55),(47.99,.34),
    (48.01,.57),(48.08,.43),(48.15,.31),(48.22,.51),(48.29,.62),(48.36,.36),(48.43,.48),(48.5,.57),(48.57,.33),(48.64,.44),(48.71,.60),
    (48.78,.38),(48.85,.52),(48.92,.41),(48.99,.64),
    (49.01,.51),(49.08,.62),(49.15,.39),(49.22,.47),(49.29,.33),(49.36,.57),(49.43,.44),(49.5,.60),(49.57,.31),(49.64,.53),(49.71,.38),
    (49.78,.64),(49.85,.45),(49.92,.36),(49.99,.52)]

# sparse low tail and top edge beyond the narrowed range
tail_pts = [(17.5,.315),(18.7,.231),(18.2,.332),(18.9,.305),(19.2,.285),(19.7,.315),(20.3,.296),(21.2,.254),(21.3,.295),(21.0,.349),
    (20.3,.369),(22.5,.37),(23.4,.369),(23.3,.225),(23.2,.222),(23.4,.30),(23.6,.313),(24.2,.27),(24.4,.25),(24.7,.20),(24.8,.29),
    (24.5,.31),(25.5,.315),(25.6,.302),(25.9,.28),(25.8,.27),(25.4,.253),(26.2,.237),(26.2,.33),(27.0,.212),(27.7,.25),(28.2,.204),
    (28.9,.254),(29.1,.212),(29.9,.183),(30.3,.14),(31.7,.132),(32.0,.212),(30.6,.271),(31.0,.24),(31.4,.235),(29.6,.253),(29.7,.282),
    (33.4,.167),(33.7,.172),(34.2,.187),(33.0,.194),(35.0,.194),(35.4,.178),(35.7,.18),(36.2,.169),(36.3,.212),(37.9,.191),(38.4,.218),
    (39.3,.212),(39.9,.138),(40.4,.152),(39.9,.197),(41.4,.164),(41.7,.195),(42.3,.183),(42.9,.174),(41.9,.217),(42.3,.209),(44.5,.166),
    (44.8,.18),(45.4,.175),(44.9,.209),(45.3,.20),(45.7,.209),(46.5,.17),(47.0,.158),(47.5,.17),(47.8,.158),(48.5,.197),(49.1,.15),
    (49.7,.146),(49.5,.107),(45.4,.036),(46.4,.212),(48.5,.22),(49.4,.212),(50.0,.23),(47.6,.23),
    (17.9,.716),(19.9,.716),(20.6,.746),(21.7,.713),(22.9,.718),(23.3,.716),(25.8,.726),(26.8,.71),(27.4,.713),(28.2,.705),(30.2,.718),
    (31.2,.716),(32.2,.695),(45.0,.72),(45.0,.70),(46.2,.70),(48.0,.69),(49.7,.66),(43.5,.69),(41.7,.69),(40.9,.69),(39.6,.69),
    (38.3,.707),(37.8,.70),(36.9,.70),(36.5,.698),(33.7,.696),(38.97,.69),(34.8,.70),(35.5,.69),(42.6,.68),(44.2,.685),(47.2,.68),
    (24.0,.715),(18.8,.71),(29.2,.705)]

narrow_lo, narrow_hi = 2.37, 17.43
threshold = 0.75

all_pts = (zone_a_high + zone_a_low + zone_a_core + zone_a_fill + zone_b_core + zone_b_fill
           + zone_c_core + zone_d_core + zone_cd_fill + tail_pts)
uz = [p[0] for p in all_pts]
nse = [p[1] for p in all_pts]

W, H = 1286, 830
fig = plt.figure(figsize=(W / 100, H / 100), dpi=100)
ax = fig.add_axes([162 / W, 1 - 665 / H, 1040 / W, 645 / H])

ax.plot(uz, nse, linestyle='none', marker='D', ms=5.6, mew=0.5, color='#000080', zorder=3)

ax.set_xlim(0, 50)
ax.set_ylim(0, 1)
ax.xaxis.set_major_locator(MultipleLocator(5))
ax.xaxis.set_minor_locator(MultipleLocator(1))
ax.yaxis.set_major_locator(MultipleLocator(0.1))
ax.xaxis.set_major_formatter(FormatStrFormatter('%.1f'))
ax.yaxis.set_major_formatter(FormatStrFormatter('%.2f'))
ax.tick_params(axis='both', which='major', direction='out', length=5, width=1.1, labelsize=15, colors='black')
ax.tick_params(axis='x', which='minor', direction='out', length=3, width=1.1)
ax.tick_params(axis='x', which='major', pad=14)
ax.tick_params(axis='y', which='major', pad=7)
ax.grid(True, which='major', color='#a6a6a6', lw=1.1, zorder=0)
ax.set_axisbelow(True)
for s in ax.spines.values():
    s.set_color('#303030')
    s.set_linewidth(1.3)

# range markers and threshold
ax.plot([narrow_lo, narrow_lo], [0, 0.973], color='black', lw=1.6, zorder=4)
ax.plot([narrow_hi, narrow_hi], [0, 0.973], color='black', lw=1.6, zorder=4)
ax.plot([0, 40.7], [threshold, threshold], color='black', lw=1.6, zorder=4)
ax.annotate('', xy=(narrow_lo, 0.90), xytext=(narrow_hi, 0.90),
            arrowprops=dict(arrowstyle='<|-|>', color='black', lw=1.3,
                            mutation_scale=13, shrinkA=0, shrinkB=0), zorder=5)

ax.text(9.9, 0.921, 'Narrowed Sample Range', ha='center', va='center', fontsize=15,
        fontweight='bold', zorder=6, bbox=dict(facecolor='white', edgecolor='none', pad=0.5))
ax.text(9.9, 0.881, 'for UZ', ha='center', va='center', fontsize=15,
        fontweight='bold', zorder=6, bbox=dict(facecolor='white', edgecolor='none', pad=0.5))
ax.text(29.45, 0.785, 'NSE Objective Function Threshold = 0.75', ha='center', va='center',
        fontsize=15, fontweight='bold', zorder=6,
        bbox=dict(facecolor='white', edgecolor='none', pad=1))
ax.text(44.47, 0.962, 'Park Creek Subbasin', ha='center', va='center', fontsize=15,
        fontweight='bold', zorder=6,
        bbox=dict(facecolor='white', edgecolor='black', lw=1.0, boxstyle='square,pad=0.12'))

fig.text(682 / W, 1 - 731 / H, 'Upper Zone Interflow Storage Constant, UZ (hours)',
         ha='center', va='center', fontsize=15, fontweight='bold')
fig.text(87 / W, 1 - 325 / H, 'NSE Objective Function Value', rotation=90,
         ha='center', va='center', fontsize=15, fontweight='bold')

# page frame and caption
frame = dict(color='black', lw=2.4, transform=fig.transFigure)
fig.add_artist(Line2D([9 / W, 1], [1 - 4 / H, 1 - 4 / H], **frame))
fig.add_artist(Line2D([9 / W, 9 / W], [0, 1 - 3 / H], **frame))
fig.add_artist(Line2D([9 / W, 1], [1 - 764 / H, 1 - 764 / H], **frame))
fig.text(650 / W, 1 - 803 / H, 'Figure 4-1. Example Scatter Plot Showing Analysis',
         ha='center', va='center', fontsize=17, fontweight='bold', family='Liberation Serif')

fig.savefig('out.png', dpi=100)
